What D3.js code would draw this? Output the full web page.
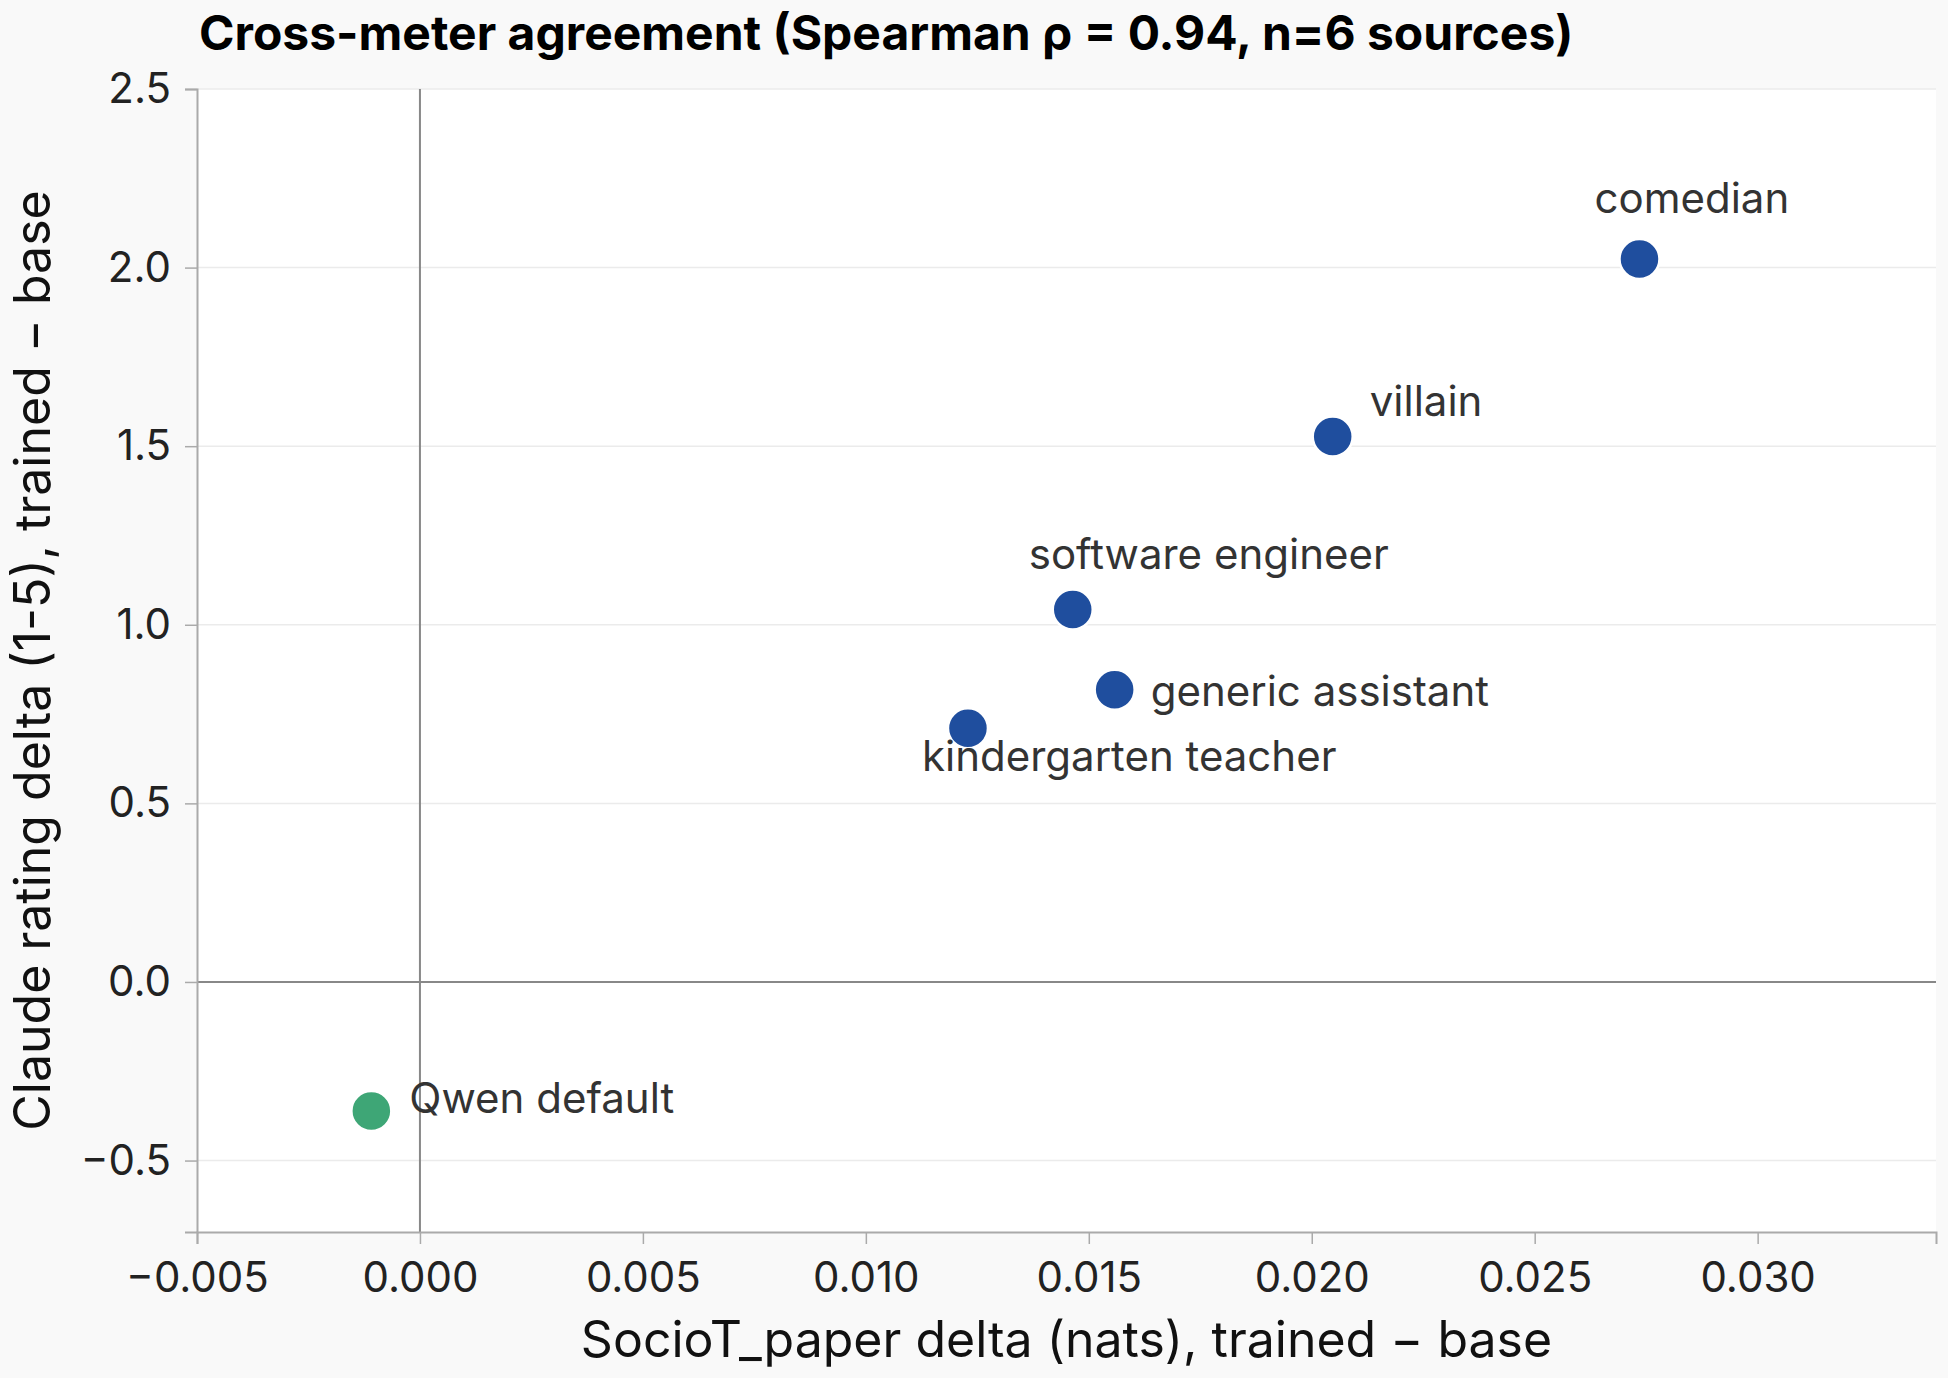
<!DOCTYPE html>
<html>
<head>
<meta charset="utf-8">
<script src="https://cdn.jsdelivr.net/npm/d3@7"></script>
<style>
  html, body { margin: 0; padding: 0; background: #f9f9f9; }
  svg { display: block; font-family: Inter, "Noto Sans", sans-serif; }
</style>
</head>
<body>
<div id="chart"></div>
<script>
// data
const sources = ["comedian", "villain", "software engineer", "generic assistant", "kindergarten teacher", "Qwen default"];
const socioDelta = [0.02735, 0.02047, 0.01464, 0.01558, 0.01229, -0.00109];
const claudeDelta = [2.024, 1.527, 1.043, 0.818, 0.710, -0.361];
const isBase = [false, false, false, false, false, true];
const xTicks = [-0.005, 0.000, 0.005, 0.010, 0.015, 0.020, 0.025, 0.030];
const yTicks = [-0.5, 0.0, 0.5, 1.0, 1.5, 2.0, 2.5];

// label placement (offset from the point, px) — layout only
const labelOffset = {
  "comedian": [-45, -46],
  "villain": [37, -21],
  "software engineer": [-44, -40],
  "generic assistant": [36, 16],
  "kindergarten teacher": [-46, 43],
  "Qwen default": [38, 2]
};

const width = 1948, height = 1378;
const margin = {top: 89, right: 12, bottom: 146, left: 197};

const svg = d3.select("#chart").append("svg")
  .attr("width", width)
  .attr("height", height);

const x = d3.scaleLinear().domain([-0.005, 0.034]).range([margin.left, width - margin.right]);
const y = d3.scaleLinear().domain([-0.7, 2.5]).range([height - margin.bottom, margin.top]);

// plot panel
svg.append("rect")
  .attr("x", margin.left).attr("y", margin.top)
  .attr("width", x.range()[1] - margin.left)
  .attr("height", y.range()[0] - margin.top)
  .attr("fill", "#fff");

// horizontal grid
svg.append("g").selectAll("line").data(yTicks).join("line")
  .attr("x1", margin.left).attr("x2", x.range()[1])
  .attr("y1", d => y(d)).attr("y2", d => y(d))
  .attr("stroke", "#ebebeb").attr("stroke-width", 1.5);

// zero reference lines
svg.append("line")
  .attr("x1", x(0)).attr("x2", x(0))
  .attr("y1", margin.top).attr("y2", y.range()[0])
  .attr("stroke", "#888").attr("stroke-width", 2);
svg.append("line")
  .attr("x1", margin.left).attr("x2", x.range()[1])
  .attr("y1", y(0)).attr("y2", y(0))
  .attr("stroke", "#888").attr("stroke-width", 2);

const fmtX = d => d3.format(".3f")(d).replace("-", "\u2212");
const fmtY = d => d3.format(".1f")(d).replace("-", "\u2212");

const xAxis = svg.append("g")
  .attr("transform", `translate(0,${y.range()[0]})`)
  .call(d3.axisBottom(x).tickValues(xTicks).tickFormat(fmtX).tickSizeOuter(0).tickSize(12).tickPadding(18));
const yAxis = svg.append("g")
  .attr("transform", `translate(${margin.left},0)`)
  .call(d3.axisLeft(y).tickValues(yTicks).tickFormat(fmtY).tickSizeOuter(0).tickSize(12).tickPadding(14));

[xAxis, yAxis].forEach(g => {
  g.select(".domain").attr("stroke", "#aaa").attr("stroke-width", 2);
  g.selectAll(".tick line").attr("stroke", "#aaa").attr("stroke-width", 1.5);
  g.selectAll(".tick text").attr("fill", "#222").style("font-size", "42px").style("font-family", "Inter");
});

// points
const pts = sources.map((s, i) => ({name: s, xv: socioDelta[i], yv: claudeDelta[i], base: isBase[i]}));

svg.append("g").selectAll("circle").data(pts).join("circle")
  .attr("cx", d => x(d.xv))
  .attr("cy", d => y(d.yv))
  .attr("r", 20)
  .attr("fill", d => d.base ? "#3ea676" : "#1f4e9e")
  .attr("stroke", "#fff").attr("stroke-width", 2.5);

svg.append("g").selectAll("text").data(pts).join("text")
  .attr("x", d => x(d.xv) + labelOffset[d.name][0])
  .attr("y", d => y(d.yv) + labelOffset[d.name][1])
  .attr("fill", "#333")
  .style("font-size", "42px")
  .text(d => d.name);

// titles
svg.append("text")
  .attr("x", margin.left + 2).attr("y", 50)
  .attr("fill", "#000")
  .style("font-size", "48px").style("font-weight", 700)
  .text("Cross-meter agreement (Spearman \u03c1 = 0.94, n=6 sources)");

svg.append("text")
  .attr("x", (margin.left + x.range()[1]) / 2).attr("y", 1357)
  .attr("text-anchor", "middle").attr("fill", "#111")
  .style("font-size", "50px")
  .text("SocioT_paper delta (nats), trained \u2212 base");

svg.append("text")
  .attr("transform", `translate(50,${(margin.top + y.range()[0]) / 2}) rotate(-90)`)
  .attr("text-anchor", "middle").attr("fill", "#111")
  .style("font-size", "50px")
  .text("Claude rating delta (1-5), trained \u2212 base");
</script>
</body>
</html>
